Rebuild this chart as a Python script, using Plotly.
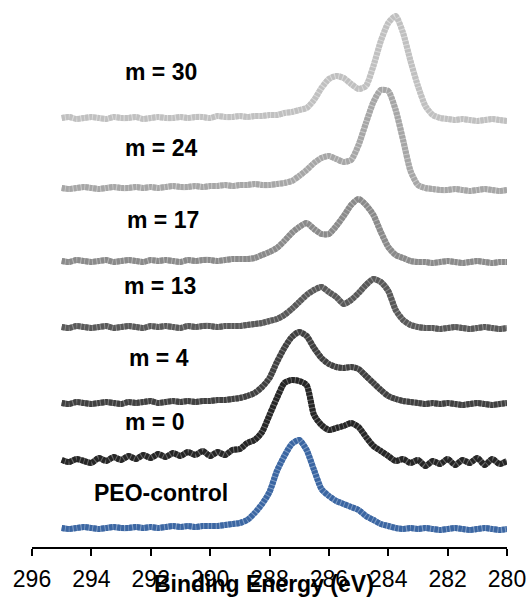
import plotly.graph_objects as go

# Binding energy grid (eV), 295 -> 280 in 0.25 eV steps
energy = [295 - 0.25 * i for i in range(61)]

# Stacked C1s intensities (a.u.)
peo_control = [19,18,19,20,19,18,19,20,19,19,20,19,20,19,20,21,20,21,20,21,
               21,21,22,23,24,27,34,43,55,76,91,103,107,97,77,58,51,46,43,40,
               37,31,27,23,21,19,18,19,18,19,18,17,18,19,18,17,18,19,18,17,18]
m0 = [87,85,88,86,84,89,86,90,87,91,88,92,89,93,90,94,91,95,92,96,
      91,95,92,97,98,104,107,115,132,149,164,167,166,162,132,122,117,119,121,124,
      120,110,101,96,91,86,88,84,87,81,86,83,88,82,87,84,89,82,88,83,86]
m4 = [144,143,145,144,143,144,145,144,143,145,144,145,146,144,145,146,145,146,145,146,
      146,147,147,148,149,151,154,160,169,185,199,210,215,211,199,189,183,180,179,180,
      178,171,164,157,151,148,146,145,144,143,144,143,144,143,142,143,144,143,142,143,144]
m13 = [220,219,221,220,219,220,221,219,220,221,220,219,221,220,221,220,219,221,220,221,
       221,220,221,221,221,222,223,224,226,228,232,238,245,252,257,260,255,250,243,247,
       254,262,268,265,256,237,227,222,220,219,219,218,219,220,219,218,219,220,219,218,219]
m17 = [286,285,287,286,285,286,287,285,286,287,286,285,287,286,287,286,285,287,286,287,
       287,286,287,288,288,288,289,292,295,299,306,314,320,324,318,313,313,321,331,342,
       348,342,332,315,300,292,289,286,285,285,284,285,286,285,284,285,286,285,284,285,285]
m24 = [359,358,359,360,359,358,359,360,359,359,360,359,360,359,360,361,360,360,361,360,
       361,361,362,361,362,362,363,362,362,363,364,366,371,377,384,389,391,388,385,387,
       402,424,445,457,456,437,407,376,362,359,358,357,357,358,357,356,357,358,357,356,357]
m30 = [429,430,428,429,430,429,428,430,429,429,430,428,429,430,429,429,430,429,430,430,
       429,431,430,430,431,430,431,431,432,432,434,435,437,439,447,459,468,471,469,463,
       458,461,481,506,524,531,514,486,461,441,432,429,428,427,428,427,426,427,428,427,426]

series_names = ["PEO-control", "m = 0", "m = 4", "m = 13", "m = 17", "m = 24", "m = 30"]
series_values = [peo_control, m0, m4, m13, m17, m24, m30]
series_colors = ["#3b66a2", "#262626", "#404040", "#595959", "#8a8a8a", "#a6a6a6", "#c0c0c0"]
series_light = ["#7f9cc4", "#6a6a6a", "#7a7a7a", "#8d8d8d", "#b2b2b2", "#c8c8c8", "#dadada"]

# label anchor (energy, intensity) for each series name
label_energy = [291.66, 291.86, 291.73, 291.69, 291.59, 291.64, 291.64]
label_level = [54, 125, 189, 261, 327, 399, 475]

x_ticks = [296, 294, 292, 290, 288, 286, 284, 282, 280]

FONT = "Arial, 'Liberation Sans', sans-serif"

fig = go.Figure()
for name, vals, col, light in zip(series_names, series_values, series_colors, series_light):
    fig.add_trace(go.Scatter(
        x=energy, y=vals, mode="lines", name=name,
        line=dict(color=light, width=6, shape="spline", smoothing=0.6),
        showlegend=False, hoverinfo="skip"))
    fig.add_trace(go.Scatter(
        x=energy, y=vals, mode="lines", name=name,
        line=dict(color=col, width=6, shape="spline", smoothing=0.6, dash="3px,1px"),
        showlegend=False, hoverinfo="skip"))

for name, ex, ey in zip(series_names, label_energy, label_level):
    fig.add_annotation(x=ex, y=ey, xref="x", yref="y", text="<b>%s</b>" % name,
                       showarrow=False, xanchor="center", yanchor="middle",
                       font=dict(family=FONT, size=23, color="#000000"))

fig.add_annotation(x=0.4885, y=-0.068, xref="paper", yref="paper",
                   text="<b>Binding Energy (eV)</b>", showarrow=False,
                   xanchor="center", yanchor="middle",
                   font=dict(family=FONT, size=23, color="#000000"))

fig.update_layout(
    width=531, height=597,
    margin=dict(l=32, r=24, t=0, b=50),
    paper_bgcolor="white", plot_bgcolor="white",
    xaxis=dict(range=[296, 280], tickvals=x_ticks, ticktext=[str(t) for t in x_ticks],
               showline=True, linecolor="black", linewidth=2,
               ticks="outside", ticklen=7, tickwidth=2, tickcolor="black",
               ticklabelstandoff=3,
               showgrid=False, zeroline=False,
               tickfont=dict(family=FONT, size=23, color="black")),
    yaxis=dict(range=[0, 547], visible=False, showgrid=False, zeroline=False),
)

fig.write_html("out.html", config={"displayModeBar": False},
               post_script="document.body.style.margin='0';document.body.style.overflow='hidden';")
